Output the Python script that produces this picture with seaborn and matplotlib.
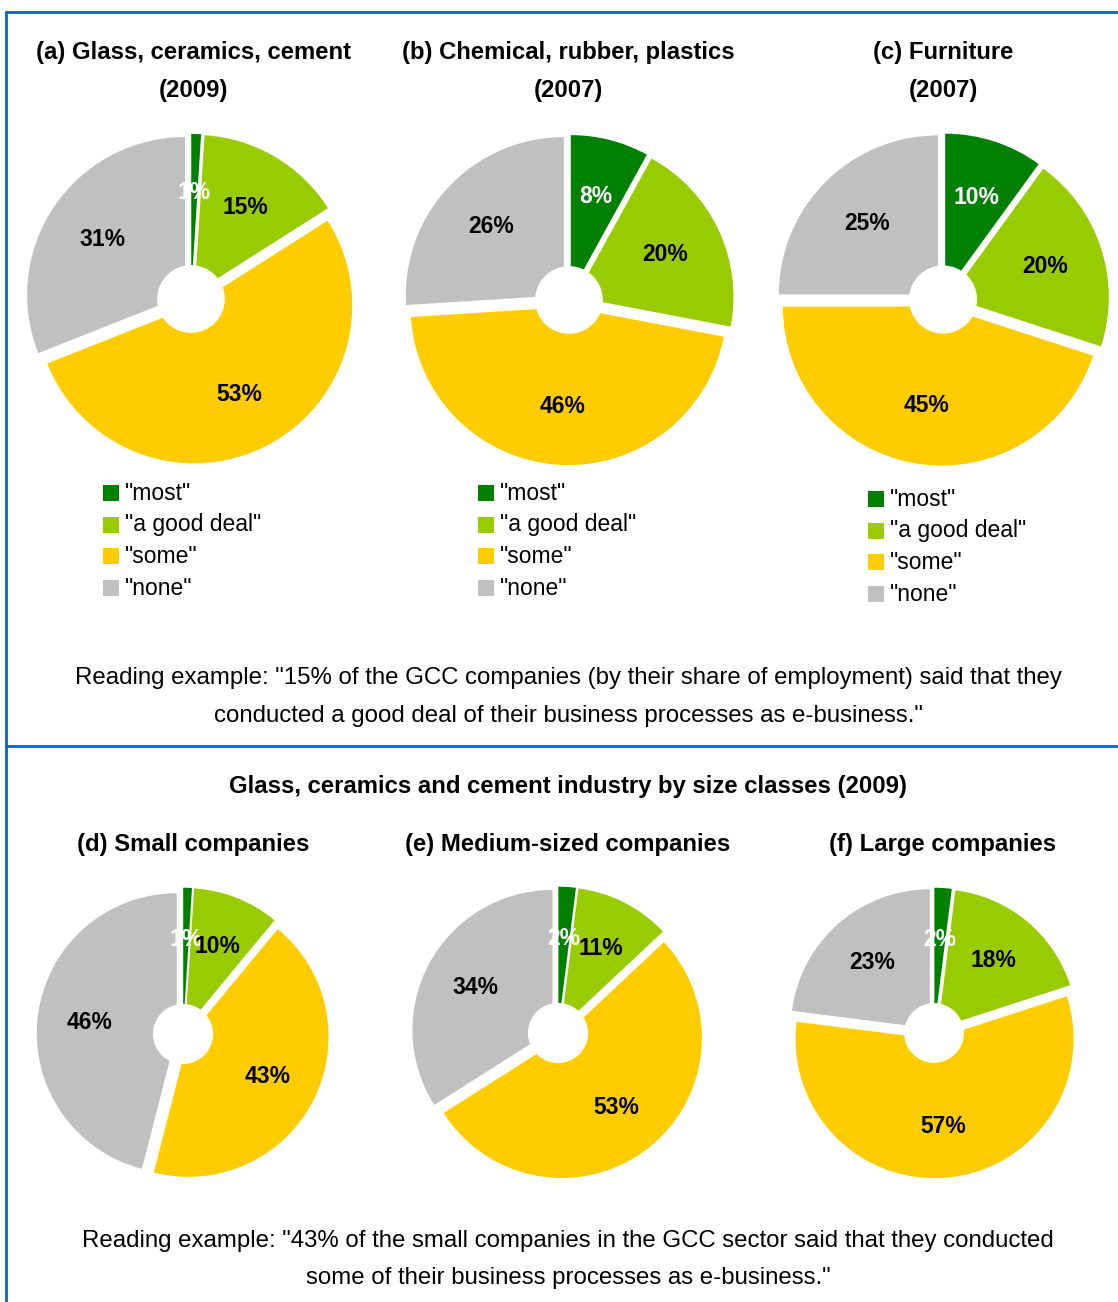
import matplotlib
matplotlib.use("Agg")
import matplotlib.pyplot as plt
import seaborn as sns
from matplotlib.lines import Line2D
from matplotlib.patches import Rectangle, Circle

# Answer categories and their colours
categories = ['"most"', '"a good deal"', '"some"', '"none"']
palette = ["#008000", "#99CC00", "#FFCC00", "#C0C0C0"]

# Shares of companies (% of employment) per answer category
glass_2009 = [1, 15, 53, 31]
chemical_2007 = [8, 20, 46, 26]
furniture_2007 = [10, 20, 45, 25]
small_2009 = [1, 10, 43, 46]
medium_2009 = [2, 11, 53, 34]
large_2009 = [2, 18, 57, 23]

top_titles = [("(a) Glass, ceramics, cement", "(2009)"),
              ("(b) Chemical, rubber, plastics", "(2007)"),
              ("(c) Furniture", "(2007)")]
bottom_titles = ["(d) Small companies", "(e) Medium-sized companies",
                 "(f) Large companies"]
section_title = "Glass, ceramics and cement industry by size classes (2009)"
note_top = ['Reading example: "15% of the GCC companies (by their share of employment) said that they',
            'conducted a good deal of their business processes as e-business."']
note_bottom = ['Reading example: "43% of the small companies in the GCC sector said that they conducted',
               'some of their business processes as e-business."']

sns.set_theme(style="white")
plt.rcParams["font.family"] = ["Liberation Sans", "DejaVu Sans"]
plt.rcParams["text.color"] = "black"

W, H = 1118, 1302
fig = plt.figure(figsize=(W / 100, H / 100), dpi=100)
fig.patch.set_facecolor("white")


def fx(x):
    return x / W


def fy(y):
    return 1 - y / H


def draw_pie(values, cx, cy, r):
    half = 1.25
    ax = fig.add_axes([fx(cx - half * r), fy(cy + half * r),
                       2 * half * r / W, 2 * half * r / H])
    wedges, _, autotexts = ax.pie(
        values, colors=palette, startangle=90, counterclock=False,
        explode=[0.045] * len(values), autopct=lambda p: f"{p:.0f}%",
        pctdistance=0.63, wedgeprops=dict(linewidth=0),
        textprops=dict(fontsize=16.5, fontweight="bold", color="black"))
    autotexts[0].set_color("white")
    ax.add_patch(Circle((0, 0), 0.21, color="white", zorder=2))
    ax.set_xlim(-half, half)
    ax.set_ylim(-half, half)
    ax.set_aspect("equal")
    ax.axis("off")
    return wedges


def draw_legend(x, y, step=31.7):
    for i, (lab, col) in enumerate(zip(categories, palette)):
        yc = y + i * step
        fig.patches.append(Rectangle((fx(x), fy(yc + 8)), 16 / W, 16 / H,
                                     transform=fig.transFigure,
                                     facecolor=col, edgecolor="none"))
        fig.text(fx(x + 22), fy(yc), lab, ha="left", va="center",
                 fontsize=16.5, color="black")


# Top row
top_data = [glass_2009, chemical_2007, furniture_2007]
top_cx = [191, 569, 943]
top_r = [158, 158, 159]
top_cy = [299, 300, 299.5]
legend_pos = [(103, 493), (478, 493), (868, 499)]
title_cx = [193, 568, 943]
for vals, cx, cy, r, (lx, ly), (t1, t2), tcx in zip(
        top_data, top_cx, top_cy, top_r, legend_pos, top_titles, title_cx):
    draw_pie(vals, cx, cy, r)
    draw_legend(lx, ly)
    fig.text(fx(tcx), fy(52), t1, ha="center", va="center",
             fontsize=17.2, fontweight="bold")
    fig.text(fx(tcx), fy(90), t2, ha="center", va="center",
             fontsize=17.2, fontweight="bold")

fig.text(fx(568), fy(678), note_top[0], ha="center", va="center", fontsize=17.3)
fig.text(fx(568), fy(716), note_top[1], ha="center", va="center", fontsize=17.3)

# Bottom row
fig.text(fx(568), fy(786), section_title, ha="center", va="center",
         fontsize=17.2, fontweight="bold")
bottom_data = [small_2009, medium_2009, large_2009]
bottom_cx = [183, 558, 934]
bottom_cy = [1034, 1033, 1033]
bottom_r = [140, 140, 139]
for vals, cx, cy, r, t, tcx in zip(bottom_data, bottom_cx, bottom_cy,
                                    bottom_r, bottom_titles, title_cx):
    draw_pie(vals, cx, cy, r)
    fig.text(fx(tcx), fy(845), t, ha="center", va="center",
             fontsize=17.2, fontweight="bold")

fig.text(fx(568), fy(1241), note_bottom[0], ha="center", va="center", fontsize=17.3)
fig.text(fx(568), fy(1278), note_bottom[1], ha="center", va="center", fontsize=17.3)

# Frame lines
blue = "#0066CC"
for xs, ys in [((6, 6), (12, H)), ((6, W), (12, 12)), ((6, W), (745.5, 745.5))]:
    fig.add_artist(Line2D([fx(v) for v in xs], [fy(v) for v in ys],
                          transform=fig.transFigure, color=blue, linewidth=2))

fig.savefig("out.png", dpi=100, facecolor="white")
